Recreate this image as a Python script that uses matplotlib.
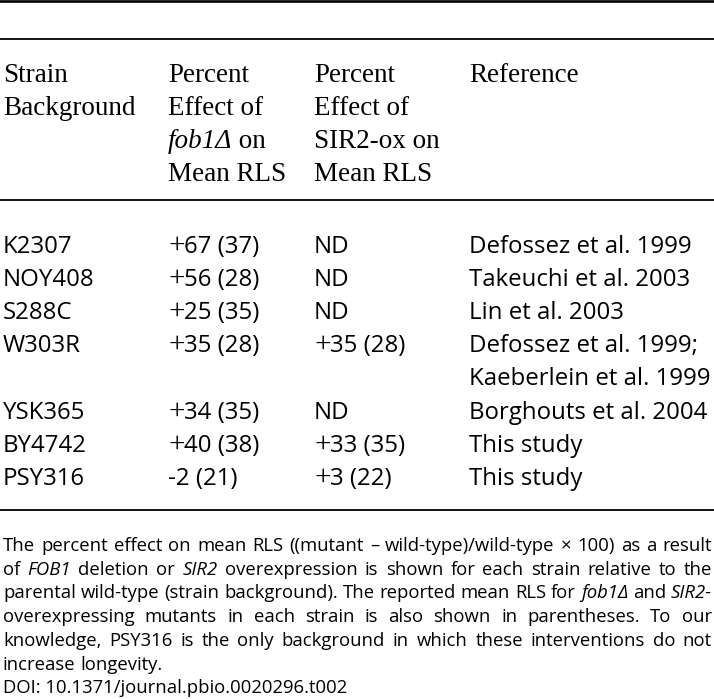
import matplotlib
matplotlib.use("Agg")
import matplotlib.pyplot as plt
from matplotlib.font_manager import FontProperties

# table contents
strains = ["K2307", "NOY408", "S288C", "W303R", "YSK365", "BY4742", "PSY316"]
fob1_pct = [67, 56, 25, 35, 34, 40, -2]
fob1_rls = [37, 28, 35, 28, 35, 38, 21]
sir2_pct = [None, None, None, 35, None, 33, 3]
sir2_rls = [None, None, None, 28, None, 35, 22]
references = ["Defossez et al. 1999", "Takeuchi et al. 2003", "Lin et al. 2003",
              "Defossez et al. 1999;\nKaeberlein et al. 1999", "Borghouts et al. 2004",
              "This study", "This study"]

# header lines, pieces marked i=italic
headers = [
    [[("Strain", "")], [("Background", "")]],
    [[("Percent", "")], [("Effect of", "")], [("fob1\u0394", "i"), (" on", "")], [("Mean RLS", "")]],
    [[("Percent", "")], [("Effect of", "")], [("SIR2-ox on", "")], [("Mean RLS", "")]],
    [[("Reference", "")]],
]

caption = [
    "The percent effect on mean RLS ((mutant \u2013 wild-type)/wild-type \u00d7 100) as a result",
    "of *FOB1* deletion or *SIR2* overexpression is shown for each strain relative to the",
    "parental wild-type (strain background). The reported mean RLS for *fob1\u0394* and *SIR2-*",
    "overexpressing mutants in each strain is also shown in parentheses. To our",
    "knowledge, PSY316 is the only background in which these interventions do not",
    "increase longevity.",
]
doi = "DOI: 10.1371/journal.pbio.0020296.t002"

W, H = 714, 699
fig = plt.figure(figsize=(W / 100, H / 100), dpi=100)
ax = fig.add_axes([0, 0, 1, 1])
ax.set_xlim(0, W)
ax.set_ylim(H, 0)
ax.axis("off")
renderer = fig.canvas.get_renderer()

serif = FontProperties(family="Liberation Serif", size=19.5)
serif_i = FontProperties(family="Liberation Serif", style="italic", size=19.5)
plus = FontProperties(family="Liberation Serif", size=21)
sans = FontProperties(family="Open Sans", size=17.3)
cap = FontProperties(family="Open Sans", size=13.3)
cap_i = FontProperties(family="Open Sans", style="italic", size=13.3)


def width(s, fp):
    t = ax.text(0, 0, s, fontproperties=fp)
    w = t.get_window_extent(renderer).width
    t.remove()
    return w


def pieces(x, y, parts):
    for s, fp in parts:
        ax.text(x, y, s, fontproperties=fp, va="baseline", ha="left")
        x += width(s, fp)


col_x = [3, 168, 314, 469]

# rules
ax.axhline(1.3, color="black", lw=1.9)
ax.axhline(39, color="black", lw=1.3)
ax.axhline(200, color="black", lw=1.3)
ax.axhline(510, color="black", lw=1.3)

# header
head_y0, head_dy = 82, 33
for cx, lines in zip(col_x, headers):
    for k, line in enumerate(lines):
        parts = [(s, serif_i if st == "i" else serif) for s, st in line]
        pieces(cx, head_y0 + k * head_dy, parts)


def cell(x, y, pct, rls):
    if pct is None:
        ax.text(x, y, "ND", fontproperties=sans, va="baseline")
        return
    if pct >= 0:
        pieces(x, y, [("+", plus), (f"{pct} ({rls})", sans)])
    else:
        ax.text(x, y, f"{pct} ({rls})", fontproperties=sans, va="baseline")


# body rows
y = 253
row_dy = 33.1
for i in range(len(strains)):
    ax.text(col_x[0], y, strains[i], fontproperties=sans, va="baseline")
    cell(col_x[1], y, fob1_pct[i], fob1_rls[i])
    cell(col_x[2], y, sir2_pct[i], sir2_rls[i])
    ref_lines = references[i].split("\n")
    for k, r in enumerate(ref_lines):
        ax.text(col_x[3], y + k * row_dy, r, fontproperties=sans, va="baseline")
    y += row_dy * len(ref_lines)

# caption, justified
left, right = 3, 712
cap_y0, cap_dy = 551, 23.7
for n, line in enumerate(caption):
    words = []
    for w in line.split(" "):
        if w.startswith("*") and w.endswith("*"):
            words.append((w.strip("*"), cap_i))
        else:
            words.append((w, cap))
    yy = cap_y0 + n * cap_dy
    ws = [width(w, fp) for w, fp in words]
    if n == len(caption) - 1:
        gap = width(" ", cap)
    else:
        gap = (right - left - sum(ws)) / (len(words) - 1)
    x = left
    for (w, fp), wd in zip(words, ws):
        ax.text(x, yy, w, fontproperties=fp, va="baseline")
        x += wd + gap
ax.text(left, cap_y0 + len(caption) * cap_dy, doi, fontproperties=cap, va="baseline")

fig.savefig("out.png", dpi=100)
